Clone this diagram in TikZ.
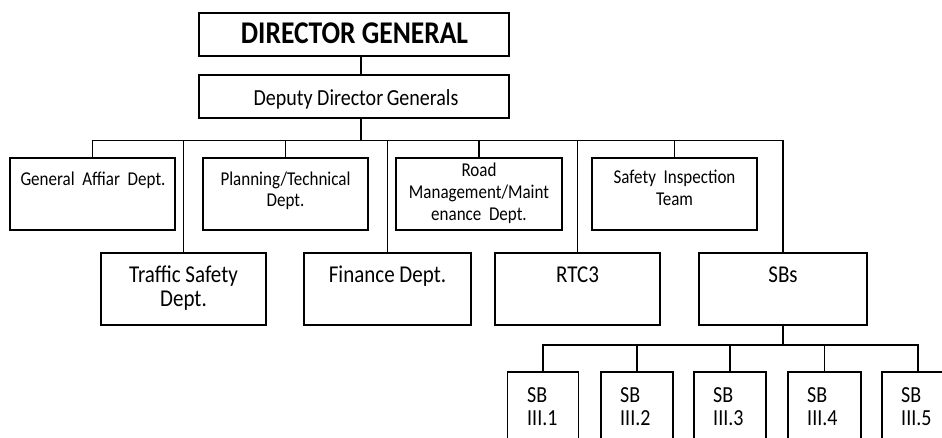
\documentclass[tikz,border=0pt]{standalone}
\usepackage{graphicx}
\usepackage{fontspec}
\setmainfont{Carlito}
\newcommand{\vs}[1]{\scalebox{1}[1.15]{#1}}
\begin{document}
\begin{tikzpicture}[x=1pt,y=-1pt,
  box/.style={draw,line width=1.9pt,inner sep=0pt,minimum height=72pt},
  conn/.style={draw,line width=1.9pt},
  txt/.style={inner sep=0pt,anchor=base},
  sbtxt/.style={inner sep=0pt,anchor=base west}]
\useasboundingbox (0,0) rectangle (942,438);
\clip (0,0) rectangle (942,438);
% top boxes
\node[box,minimum width=310pt,minimum height=43pt] (dg) at (354,34.5) {};
\node[box,minimum width=310pt,minimum height=43pt] (ddg) at (354,96.5) {};
% first row
\node[box,minimum width=165pt] (gad) at (92.5,194) {};
\node[box,minimum width=165pt] (pt) at (285.5,194) {};
\node[box,minimum width=166pt] (rm) at (479,194) {};
\node[box,minimum width=165pt] (si) at (674.5,194) {};
% second row
\node[box,minimum width=165pt] (ts) at (183.5,289) {};
\node[box,minimum width=167pt] (fd) at (387.5,289) {};
\node[box,minimum width=165pt] (rtc) at (577.5,289) {};
\node[box,minimum width=168pt] (sbs) at (783,289) {};
% SB boxes
\node[box,minimum width=71pt,minimum height=90pt] (sb1) at (543,417) {};
\node[box,minimum width=72pt,minimum height=90pt] (sb2) at (637,417) {};
\node[box,minimum width=72pt,minimum height=90pt] (sb3) at (730,417) {};
\node[box,minimum width=73pt,minimum height=90pt] (sb4) at (824.5,417) {};
\node[box,minimum width=72pt,minimum height=90pt] (sb5) at (918,417) {};
% texts
\node[txt] (dgt) at (354.5,44) {\vs{\fontsize{27.5}{32}\selectfont\bfseries DIRECTOR GENERAL}};
\node[txt] (ddgt) at (356,106) {\vs{\fontsize{20}{24}\selectfont Deputy Director\kern-1pt\ Generals}};
\node[txt] (gadt) at (93,186) {\vs{\parbox[t]{160pt}{\centering\fontsize{17}{18.3}\selectfont General\ \ Affiar\ \ Dept.}}};
\node[txt] (ptt) at (285.5,186) {\vs{\parbox[t]{160pt}{\centering\fontsize{17}{18}\selectfont Planning/Technical\\Dept.}}};
\node[txt] (rmt) at (479,177) {\vs{\parbox[t]{162pt}{\centering\fontsize{17}{18.7}\selectfont Road\\Management/Maint\\enance\ \ Dept.}}};
\node[txt] (sit) at (674.5,184) {\vs{\parbox[t]{160pt}{\centering\fontsize{17}{18.3}\selectfont Safety\ \ Inspection\\Team}}};
\node[txt] (tst) at (183.5,283) {\vs{\parbox[t]{160pt}{\centering\fontsize{21}{20.4}\selectfont Traffic Safety\\Dept.}}};
\node[txt] (fdt) at (387.5,283) {\vs{\parbox[t]{160pt}{\centering\fontsize{21}{20.4}\selectfont Finance Dept.}}};
\node[txt] (rtct) at (577.5,283) {\vs{\parbox[t]{160pt}{\centering\fontsize{21}{20.4}\selectfont RTC3}}};
\node[txt] (sbst) at (783,283) {\vs{\parbox[t]{160pt}{\centering\fontsize{21}{20.4}\selectfont SBs}}};
\node[sbtxt] (sb1t) at (527,402) {\vs{\parbox[t]{50pt}{\raggedright\fontsize{20}{20}\selectfont SB\\III.1}}};
\node[sbtxt] (sb2t) at (620,402) {\vs{\parbox[t]{50pt}{\raggedright\fontsize{20}{20}\selectfont SB\\III.2}}};
\node[sbtxt] (sb3t) at (713,402) {\vs{\parbox[t]{50pt}{\raggedright\fontsize{20}{20}\selectfont SB\\III.3}}};
\node[sbtxt] (sb4t) at (807,402) {\vs{\parbox[t]{50pt}{\raggedright\fontsize{20}{20}\selectfont SB\\III.4}}};
\node[sbtxt] (sb5t) at (901,402) {\vs{\parbox[t]{50pt}{\raggedright\fontsize{20}{20}\selectfont SB\\III.5}}};
% connectors
\coordinate (bus) at (361,140.5);
\coordinate (sbbus) at (783,345);
\draw[conn] (dg.south -| bus) -- (ddg.north -| bus);
\draw[conn] (ddg.south -| bus) -- (bus);
\draw[conn] (gad.north) |- (bus);
\draw[conn] (pt.north) |- (bus);
\draw[conn] (rm.north) |- (bus);
\draw[conn] (si.north) |- (bus);
\draw[conn] (ts.north) |- (bus);
\draw[conn] (fd.north) |- (bus);
\draw[conn] (rtc.north) |- (bus);
\draw[conn] (sbs.north) |- (bus);
\draw[conn] (sbs.south) -- (sbbus);
\draw[conn] (sb1.north) |- (sbbus);
\draw[conn] (sb2.north) |- (sbbus);
\draw[conn] (sb3.north) |- (sbbus);
\draw[conn] (sb4.north) |- (sbbus);
\draw[conn] (sb5.north) |- (sbbus);
\end{tikzpicture}
\end{document}
